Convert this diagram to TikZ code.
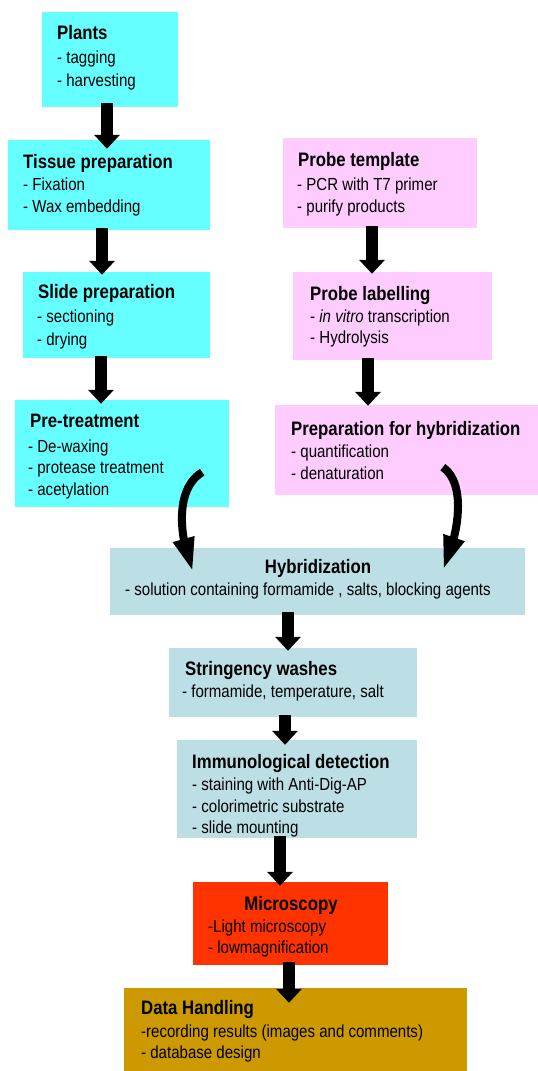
\documentclass[tikz,border=0pt]{standalone}
\usepackage{fontspec}
\setmainfont{Liberation Sans}[FakeStretch=0.86]
\usetikzlibrary{arrows.meta,bending}
\definecolor{cyanbox}{HTML}{66FFFF}
\definecolor{pinkbox}{HTML}{FFCCFF}
\definecolor{bluebox}{HTML}{BCDFE5}
\definecolor{redbox}{HTML}{FF3300}
\definecolor{goldbox}{HTML}{CC9900}
\tikzset{
  box/.style={rectangle, inner sep=0pt, draw=none},
  tt/.style={anchor=base west, inner sep=0pt, font=\fontsize{19.5}{22}\selectfont\bfseries},
  ttc/.style={anchor=base, inner sep=0pt, font=\fontsize{19.5}{22}\selectfont\bfseries},
  tl/.style={anchor=base west, inner sep=0pt, font=\fontsize{17.5}{20}\selectfont},
  flow/.style={line width=12pt, -{Triangle[width=25pt,length=14pt]}},
  swoosh/.style={line width=8pt, -{Triangle[width=20pt,length=34pt]}}
}
\begin{document}
\begin{tikzpicture}[x=1pt,y=-1pt]
\useasboundingbox (0,0) rectangle (538,1071);
% boxes
\node[box, fill=cyanbox, minimum width=136pt, minimum height=95pt] (plants) at (110,59.5) {};
\node[box, fill=cyanbox, minimum width=202pt, minimum height=90pt] (tissue) at (109,185) {};
\node[box, fill=cyanbox, minimum width=187pt, minimum height=86pt] (slide) at (116.5,315) {};
\node[box, fill=cyanbox, minimum width=214pt, minimum height=107pt] (pre) at (122,453.5) {};
\node[box, fill=pinkbox, minimum width=194pt, minimum height=90pt] (template) at (380,183) {};
\node[box, fill=pinkbox, minimum width=199pt, minimum height=88pt] (labelling) at (392.5,316) {};
\node[box, fill=pinkbox, minimum width=263pt, minimum height=90pt] (prephyb) at (406.5,450) {};
\node[box, fill=bluebox, minimum width=415pt, minimum height=67pt] (hyb) at (317.5,581.5) {};
\node[box, fill=bluebox, minimum width=248pt, minimum height=69pt] (string) at (293,682.5) {};
\node[box, fill=bluebox, minimum width=240pt, minimum height=98pt] (immuno) at (297,789) {};
\node[box, fill=redbox, minimum width=195pt, minimum height=83pt] (micro) at (290.5,923.5) {};
\node[box, fill=goldbox, minimum width=343pt, minimum height=83pt] (data) at (295.5,1029.5) {};
% straight arrows
\draw[flow, shorten <=-4pt, shorten >=-9pt] ([xshift=-3pt]plants.south) -- ([xshift=-2pt]tissue.north);
\draw[flow, shorten <=-2pt, shorten >=-3pt] ([xshift=-7pt]tissue.south) -- ([xshift=-14.5pt]slide.north);
\draw[flow, shorten <=-2pt, shorten >=-4pt] ([xshift=-15.5pt]slide.south) -- ([xshift=-21pt]pre.north);
\draw[flow, shorten <=-2pt, shorten >=-2pt] ([xshift=-8pt]template.south) -- ([xshift=-20.5pt]labelling.north);
\draw[flow, shorten <=-2pt, shorten >=-1pt] ([xshift=-24.5pt]labelling.south) -- ([xshift=-38.5pt]prephyb.north);
\draw[flow, shorten <=-3pt, shorten >=-3pt] ([xshift=-29.5pt]hyb.south) -- ([xshift=-5pt]string.north);
\draw[flow, shorten <=-2pt, shorten >=-5pt] ([xshift=-8pt]string.south) -- ([xshift=-12pt]immuno.north);
\draw[flow, shorten <=-2pt, shorten >=-4pt] ([xshift=-17pt]immuno.south) -- ([xshift=-10.5pt]micro.north);
\draw[flow, shorten <=-3pt, shorten >=-15pt] ([xshift=-1.5pt]micro.south) -- ([xshift=-6.5pt]data.north);
% curved arrows
\draw[swoosh] ([xshift=-27pt,yshift=35pt]pre.south east) .. controls +(-25,15) and +(-16,-42) .. ([xshift=83pt,yshift=-24pt]hyb.north west);
\draw[swoosh] ([xshift=168pt,yshift=28pt]prephyb.south west) .. controls +(22,15) and +(18,-42) .. ([xshift=-82pt,yshift=-22pt]hyb.north east);
% texts
\node[tt] (plants-t) at (57,39) {Plants};
\node[tl] (plants-1) at (57,63) {- tagging};
\node[tl] (plants-2) at (57,86) {- harvesting};
\node[tt] (tissue-t) at (23,168) {Tissue preparation};
\node[tl] (tissue-1) at (23,190) {- Fixation};
\node[tl] (tissue-2) at (23,212) {- Wax embedding};
\node[tt] (slide-t) at (38,298) {Slide preparation};
\node[tl] (slide-1) at (37,322) {- sectioning};
\node[tl] (slide-2) at (37,345) {- drying};
\node[tt] (pre-t) at (30,427) {Pre-treatment};
\node[tl] (pre-1) at (28,452) {- De-waxing};
\node[tl] (pre-2) at (28,473) {- protease treatment};
\node[tl] (pre-3) at (28,495) {- acetylation};
\node[tt] (template-t) at (298,166) {Probe template};
\node[tl] (template-1) at (297,190) {- PCR with T7 primer};
\node[tl] (template-2) at (297,212) {- purify products};
\node[tt] (labelling-t) at (310,300) {Probe labelling};
\node[tl] (labelling-1) at (310,322) {- \textit{in vitro} transcription};
\node[tl] (labelling-2) at (310,343) {- Hydrolysis};
\node[tt] (prephyb-t) at (291,435) {Preparation for hybridization};
\node[tl] (prephyb-1) at (291,457) {- quantification};
\node[tl] (prephyb-2) at (291,479) {- denaturation};
\node[ttc] (hyb-t) at (318,573) {Hybridization};
\node[tl] (hyb-1) at (125,595) {- solution containing formamide , salts, blocking agents};
\node[tt] (string-t) at (185,675) {Stringency washes};
\node[tl] (string-1) at (182,697) {- formamide, temperature, salt};
\node[tt] (immuno-t) at (192,768) {Immunological detection};
\node[tl] (immuno-1) at (192,790) {- staining with Anti-Dig-AP};
\node[tl] (immuno-2) at (192,812) {- colorimetric substrate};
\node[tl] (immuno-3) at (192,833) {- slide mounting};
\node[ttc] (micro-t) at (291,910) {Microscopy};
\node[tl] (micro-1) at (208,932) {-Light microscopy};
\node[tl] (micro-2) at (208,953) {- lowmagnification};
\node[tt] (data-t) at (141,1014) {Data Handling};
\node[tl] (data-1) at (141,1037) {-recording results (images and comments)};
\node[tl] (data-2) at (141,1058) {- database design};
\end{tikzpicture}
\end{document}
